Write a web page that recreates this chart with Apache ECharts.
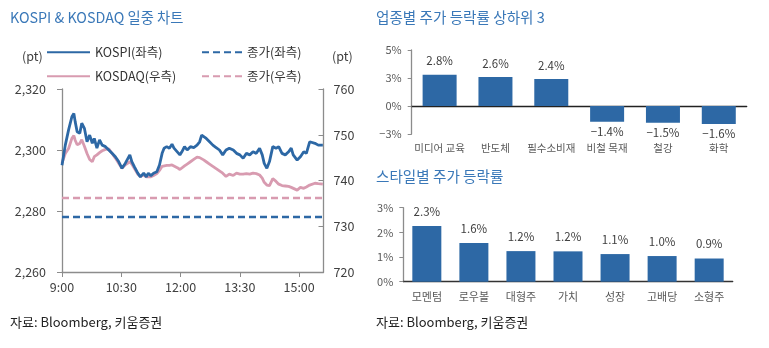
<!DOCTYPE html>
<html><head><meta charset="utf-8">
<script src="https://cdn.jsdelivr.net/npm/echarts@6/dist/echarts.min.js"></script>
<style>html,body{margin:0;padding:0;background:#fff}#c{width:769px;height:348px}</style>
</head><body><div id="c"></div><script>
// ---- Intraday data (KOSPI left axis, KOSDAQ right axis) ----
const intradayTimes = [
 '9:00','9:05','9:10','9:15','9:18','9:20','9:23','9:27','9:30','9:34','9:38','9:42','9:46','9:49','9:53','9:57',
 '10:01','10:06','10:11','10:16','10:21','10:26','10:31','10:36','10:43','10:46','10:50','10:55','10:59',
 '11:04','11:08','11:11','11:15','11:19','11:24','11:28','11:32','11:35','11:39','11:43','11:47','11:50','11:55','11:59',
 '12:02','12:06','12:10','12:15','12:20','12:25','12:29','12:32','12:35','12:39','12:44','12:49','12:54','12:59',
 '13:04','13:09','13:14','13:20','13:25','13:30','13:35','13:40','13:45','13:50','13:55',
 '14:00','14:04','14:07','14:11','14:15','14:20','14:25','14:29','14:34','14:39','14:44','14:48','14:51','14:57',
 '15:02','15:07','15:11','15:16','15:19','15:24','15:29','15:36'
];
const kospiValues = [
 2295,2301.6,2306.6,2310.9,2312,2309.3,2306,2305.5,2308.8,2307.1,2302.7,2304.9,2302.2,2303.8,2300.6,2303.3,
 2301.6,2301.1,2300,2298.9,2297.8,2296.2,2294,2295.6,2298.4,2296.2,2294.5,2292.4,2291.2,
 2292.4,2291.2,2292.4,2291.6,2292.4,2292.9,2295.1,2298.9,2300.6,2301.1,2300.6,2301.9,2300.6,2299.4,2298.4,
 2299.4,2301.1,2300,2301.1,2300.8,2301.6,2302.7,2304.9,2305.5,2303.8,2302.7,2301.6,2300.8,2300,
 2298.4,2300,2300.6,2300,2298.9,2298.4,2297.3,2298.9,2298.4,2299.4,2298.9,
 2300.6,2298.4,2295.6,2294,2296.2,2301.1,2300.6,2301.1,2298.9,2298.4,2299.4,2300.6,2298.4,2296.7,
 2297.8,2299.4,2298.9,2302.7,2302.2,2302.2,2301.6,2301.6
];
const kosdaqValues = [
 743.8,745.9,747,749.2,749.8,748.8,747.8,748.1,748.9,747.5,745.9,744.6,744.1,745.2,745.6,746.1,
 746.5,746.8,746.9,745.9,744.9,743.8,742.7,743.4,744.1,743.6,742.6,741.4,740.9,
 741.2,740.8,741,740.8,741.1,741.5,742.2,743.1,743.4,743.3,743.3,743.4,743.1,742.8,742.4,
 742.6,743.2,743.6,744.1,744.6,745.1,745,744.8,744.5,744.1,743.6,743.1,742.6,742.1,
 741.6,740.9,741.4,741.1,741.6,741.4,741.4,741.5,741.4,741.6,741.5,
 741.2,740.5,739.6,739,738.9,740.4,739.8,739.2,738.9,738.8,738.7,738.5,738.3,737.9,
 738.5,738.3,738.6,739,739.3,739.4,739.3,739.2
];
const kospiClose = 2278.0;
const kosdaqClose = 736.2;
const timeAxisStart = '9:00';
const timeAxisEnd = '15:37';
const timeTickLabels = ['9:00','10:30','12:00','13:30','15:00'];

// ---- Sector top/bottom 3 ----
const sectorCategories = ['미디어 교육','반도체','필수소비재','비철 목재','철강','화학'];
const sectorValues = [2.8, 2.6, 2.4, -1.4, -1.5, -1.6];

// ---- Style returns ----
const styleCategories = ['모멘텀','로우볼','대형주','가치','성장','고배당','소형주'];
const styleValues = [2.26, 1.57, 1.24, 1.23, 1.12, 1.04, 0.94];

// ---- helpers ----
const toMin = s => { const [h, m] = s.split(':').map(Number); return h * 60 + m; };
const fmtTime = v => Math.floor(v / 60) + ':' + String(v % 60).padStart(2, '0');
const tickSet = new Set(timeTickLabels.map(toMin));
const minus = s => s.replace('-', '\u2212');

const BLUE = '#2d68a5', PINK = '#d89bb0', TITLE = '#3a78b8', AXIS = '#8c8c8c', TXT = '#404040';
const FONT = '"Noto Sans CJK KR", "Noto Sans", sans-serif';
const tMin = toMin(timeAxisStart), tMax = toMin(timeAxisEnd);

const kospiData = intradayTimes.map((t, i) => [toMin(t), kospiValues[i]]);
const kosdaqData = intradayTimes.map((t, i) => [toMin(t), kosdaqValues[i]]);

const chart = echarts.init(document.getElementById('c'), null, {renderer: 'canvas'});
const legendBase = {padding: 0, itemHeight: 14, itemStyle: {opacity: 0}, textStyle: {fontSize: 12.5, color: '#333', fontFamily: FONT}, selectedMode: false};
const titleStyle = size => ({fontSize: size, fontWeight: 'normal', color: TITLE, fontFamily: FONT});
chart.setOption({
  animation: false,
  textStyle: {fontFamily: FONT},
  title: [
    {text: 'KOSPI & KOSDAQ 일중 차트', left: 10, top: 10, padding: 0, textStyle: titleStyle(14.3)},
    {text: '업종별 주가 등락률 상하위 3', left: 376, top: 10, padding: 0, textStyle: titleStyle(14.6)},
    {text: '스타일별 주가 등락률', left: 376, top: 169, padding: 0, textStyle: titleStyle(14.6)}
  ],
  graphic: [
    {type: 'text', left: 22, top: 50, style: {text: '(pt)', fontSize: 12.5, fill: TXT, fontFamily: FONT}},
    {type: 'text', left: 332, top: 50, style: {text: '(pt)', fontSize: 12.5, fill: TXT, fontFamily: FONT}},
    {type: 'text', left: 10, top: 316, style: {text: '자료: Bloomberg, 키움증권', fontSize: 13, fill: '#222', fontFamily: FONT}},
    {type: 'text', left: 376, top: 316, style: {text: '자료: Bloomberg, 키움증권', fontSize: 13, fill: '#222', fontFamily: FONT}}
  ],
  legend: [
    Object.assign({}, legendBase, {data: ['KOSPI(좌측)'], left: 46, top: 46, itemWidth: 43}),
    Object.assign({}, legendBase, {data: ['종가(좌측)'], left: 201, top: 46, itemWidth: 40}),
    Object.assign({}, legendBase, {data: ['KOSDAQ(우측)'], left: 46, top: 70, itemWidth: 43}),
    Object.assign({}, legendBase, {data: ['종가(우측)'], left: 201, top: 70, itemWidth: 40})
  ],
  grid: [
    {left: 62, top: 89, width: 261.5, height: 183, containLabel: false},
    {left: 411.7, top: 50, width: 335, height: 84, containLabel: false},
    {left: 403.3, top: 207.7, width: 329.4, height: 74, containLabel: false}
  ],
  xAxis: [
    {gridIndex: 0, type: 'value', min: tMin, max: tMax, interval: 90,
     axisLine: {lineStyle: {color: AXIS, width: 1.3}}, axisTick: {length: 5, lineStyle: {color: AXIS}},
     splitLine: {show: false},
     axisLabel: {margin: 9, fontSize: 12.5, color: TXT, fontFamily: FONT, showMaxLabel: false,
       formatter: v => tickSet.has(v) ? fmtTime(v) : ''}},
    {gridIndex: 1, type: 'category', data: sectorCategories, position: 'bottom',
     axisLine: {onZero: true, lineStyle: {color: '#222', width: 1.3}}, axisTick: {length: 4, lineStyle: {color: '#222'}},
     axisLabel: {show: false}},
    {gridIndex: 1, type: 'category', data: sectorCategories, position: 'bottom',
     axisLine: {show: false, onZero: false}, axisTick: {show: false},
     axisLabel: {margin: 9, interval: 0, fontSize: 10.5, color: '#595959', fontFamily: FONT}},
    {gridIndex: 2, type: 'category', data: styleCategories, position: 'bottom',
     axisLine: {lineStyle: {color: '#333', width: 1.3}}, axisTick: {length: 4, lineStyle: {color: '#333'}},
     axisLabel: {margin: 10, interval: 0, fontSize: 11, color: '#595959', fontFamily: FONT}}
  ],
  yAxis: [
    {gridIndex: 0, type: 'value', min: 2260, max: 2320, interval: 20, position: 'left',
     axisLine: {show: true, lineStyle: {color: AXIS, width: 1.3}}, axisTick: {show: true, length: 5, lineStyle: {color: AXIS}},
     splitLine: {show: false},
     axisLabel: {margin: 16, fontSize: 12.5, color: TXT, fontFamily: FONT,
       formatter: v => v.toLocaleString('en-US')}},
    {gridIndex: 0, type: 'value', min: 720, max: 760, interval: 10, position: 'right',
     axisLine: {show: true, lineStyle: {color: AXIS, width: 1.3}}, axisTick: {show: true, inside: true, length: 5, lineStyle: {color: AXIS}},
     splitLine: {show: false},
     axisLabel: {margin: 10, fontSize: 12.5, color: TXT, fontFamily: FONT}},
    {gridIndex: 1, type: 'value', min: -2.5, max: 5, interval: 2.5,
     axisLine: {show: true, lineStyle: {color: AXIS, width: 1.3}}, axisTick: {show: true, length: 4, lineStyle: {color: AXIS}},
     splitLine: {show: false},
     axisLabel: {margin: 10, fontSize: 11, color: '#595959', fontFamily: FONT,
       formatter: v => (v < 0 ? '\u2212' : '') + Math.abs(v).toFixed(0) + '%'}},
    {gridIndex: 2, type: 'value', min: 0, max: 3, interval: 1,
     axisLine: {show: true, lineStyle: {color: AXIS, width: 1.3}}, axisTick: {show: true, length: 4, lineStyle: {color: AXIS}},
     splitLine: {show: false},
     axisLabel: {margin: 10, fontSize: 11, color: '#595959', fontFamily: FONT, formatter: v => v + '%'}}
  ],
  series: [
    {name: 'KOSPI(좌측)', type: 'line', xAxisIndex: 0, yAxisIndex: 0, data: kospiData, symbol: 'none',
     lineStyle: {color: BLUE, width: 2.8}, itemStyle: {color: BLUE, opacity: 0}, z: 4},
    {name: 'KOSDAQ(우측)', type: 'line', xAxisIndex: 0, yAxisIndex: 1, data: kosdaqData, symbol: 'none',
     lineStyle: {color: PINK, width: 2.8}, itemStyle: {color: PINK, opacity: 0}, z: 3},
    {name: '종가(좌측)', type: 'line', xAxisIndex: 0, yAxisIndex: 0, data: [[tMin, kospiClose], [tMax, kospiClose]], symbol: 'none',
     lineStyle: {color: BLUE, width: 2.5, type: [7, 4]}, itemStyle: {color: BLUE, opacity: 0}, z: 2},
    {name: '종가(우측)', type: 'line', xAxisIndex: 0, yAxisIndex: 1, data: [[tMin, kosdaqClose], [tMax, kosdaqClose]], symbol: 'none',
     lineStyle: {color: PINK, width: 2.5, type: [7, 4]}, itemStyle: {color: PINK, opacity: 0}, z: 2},
    {type: 'bar', xAxisIndex: 1, yAxisIndex: 2, barWidth: 34,
     data: sectorValues.map(v => ({value: v, label: {position: v < 0 ? 'bottom' : 'top', distance: v < 0 ? 4 : 8}})),
     itemStyle: {color: BLUE},
     label: {show: true, fontSize: 11.5, color: TXT, fontFamily: FONT,
       formatter: p => minus(p.value.toFixed(1)) + '%'}},
    {type: 'bar', xAxisIndex: 3, yAxisIndex: 3, barWidth: 29,
     data: styleValues, itemStyle: {color: BLUE},
     label: {show: true, position: 'top', distance: 9, fontSize: 11.5, color: TXT, fontFamily: FONT,
       formatter: p => p.value.toFixed(1) + '%'}}
  ]
});
</script></body></html>
